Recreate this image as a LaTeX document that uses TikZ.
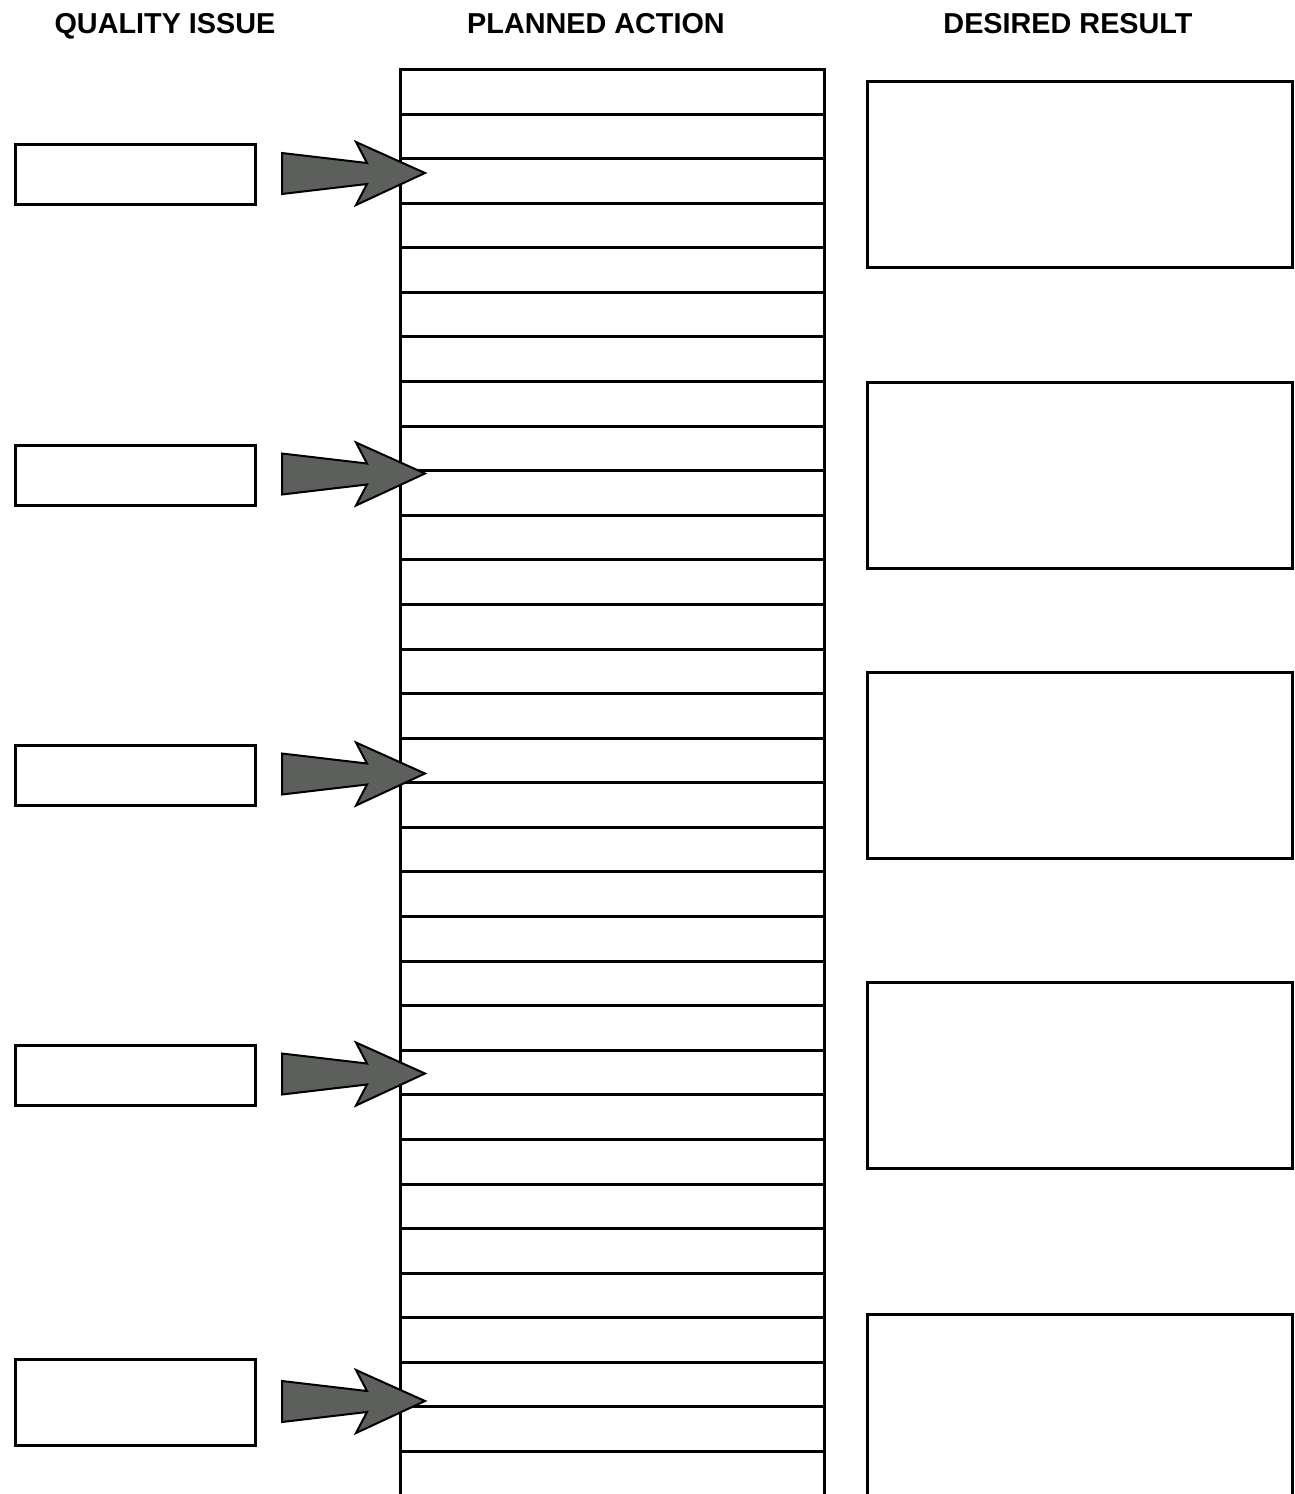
\documentclass[tikz,border=0pt]{standalone}
\usepackage{fontspec}
\setmainfont{Liberation Sans}
\usetikzlibrary{calc}
\definecolor{arrowgrey}{RGB}{92,95,91}
\begin{document}
\begin{tikzpicture}[x=0.5pt,y=-0.5pt,
  box/.style={draw=black,line width=1.5pt,fill=white,inner sep=0pt,outer sep=0pt},
  issue/.style={box,minimum width=120pt,minimum height=30pt},
  result/.style={box,minimum width=212.5pt,minimum height=93pt},
  head/.style={font=\bfseries\fontsize{14.4}{16}\selectfont,inner sep=0pt,anchor=base},
  rule/.style={line width=1.5pt},
  blockarrow/.style={draw=black,line width=1pt,fill=arrowgrey,line join=miter}]

\useasboundingbox (0,0) rectangle (1295,1494);
\clip (0,0) rectangle (1295,1494);

% column headings
\node[head] (h1) at (165,33.5) {QUALITY ISSUE};
\node[head] (h2) at (596,33.5) {PLANNED ACTION};
\node[head] (h3) at (1068,33.5) {DESIRED RESULT};

% planned action column, ruled into rows
\node[box,minimum width=212pt,minimum height=740pt,anchor=north west] (plan) at (400.5,69.5) {};
\foreach \k in {1,...,31}
  \draw[rule] ([yshift={-\k*22.29pt}]plan.north west) -- ([yshift={-\k*22.29pt}]plan.north east);

% quality issue boxes
\node[issue] (issue1) at (135,174.5) {};
\node[issue] (issue2) at (135,475) {};
\node[issue] (issue3) at (135,775) {};
\node[issue] (issue4) at (135,1075) {};
\node[issue,minimum height=43pt] (issue5) at (135,1402.5) {};

% desired result boxes
\node[result] (result1) at (1080,174.5) {};
\node[result] (result2) at (1080,475) {};
\node[result] (result3) at (1080,765) {};
\node[result] (result4) at (1080,1075) {};
\node[result,minimum height=100pt,anchor=north] (result5) at (1080,1314.5) {};

% block arrows pointing into the action column
\foreach \i in {1,...,5} {
  \coordinate (tip\i) at ($(plan.west |- issue\i.east)+(24.5,-1.5)$);
  \draw[blockarrow,shift={(tip\i)}]
    (-143,-20) -- (-58,-10) -- (-69,-31) -- (0,0) -- (-69,32) -- (-58,11) -- (-143,21) -- cycle;
}
\end{tikzpicture}
\end{document}
